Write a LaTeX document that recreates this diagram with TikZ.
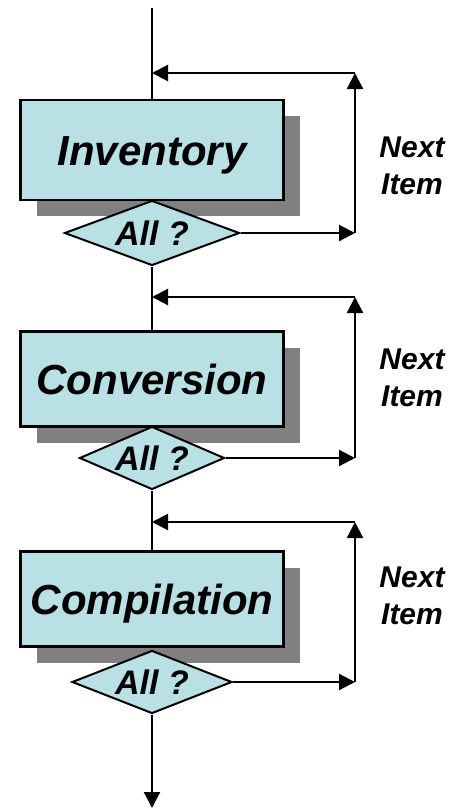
\documentclass[tikz,border=0pt]{standalone}
\usepackage{fontspec}
\setmainfont{Liberation Sans}
\usetikzlibrary{arrows.meta,shapes.geometric,shadows}
\definecolor{stagefill}{RGB}{185,224,228}
\tikzset{
  stagebox/.style={draw,line width=2.4pt,fill=stagefill,minimum width=263pt,inner sep=0pt,
    text height=30pt,text depth=0pt,font=\fontsize{42}{48}\selectfont\bfseries\itshape,
    drop shadow={shadow xshift=16pt,shadow yshift=-16pt,fill=gray,opacity=1}},
  decidebox/.style={diamond,aspect=2.7,draw,line width=2pt,fill=stagefill,inner sep=0pt,
    text height=25pt,text depth=0pt,font=\fontsize{34}{38}\selectfont\bfseries\itshape},
  flowline/.style={line width=2.2pt},
  flowarrow/.style={line width=2.2pt,-{Triangle[length=16pt,width=16pt]}},
  nextlabel/.style={align=center,font=\fontsize{30}{37}\selectfont\bfseries\itshape}
}
\begin{document}
\begin{tikzpicture}[x=1pt,y=-1pt]
\useasboundingbox (0,0) rectangle (454,809);

 \node[stagebox,minimum height=100pt] (inv) at (152,150) {Inventory};
 \node[decidebox,minimum width=175pt,minimum height=65pt] (inva) at (152,233) {All ?};
 \node[stagebox,minimum height=95pt] (conv) at (152,379) {Conversion};
 \node[decidebox,minimum width=145pt,minimum height=63pt] (conva) at (152,458) {All ?};
 \node[stagebox,minimum height=95pt] (comp) at (152,599) {Compilation};
 \node[decidebox,minimum width=160pt,minimum height=63pt] (compa) at (152,682) {All ?};

 \node[nextlabel] (next1) at (412,166) {Next\\Item};
 \node[nextlabel] (next2) at (412,378) {Next\\Item};
 \node[nextlabel] (next3) at (412,596) {Next\\Item};

 \coordinate (start) at (152,8);
 \coordinate (finish) at (152,808);
 \coordinate (inv-r) at (355,233);  \coordinate (inv-t) at (355,73);  \coordinate (inv-j) at (152,73);
 \coordinate (conv-r) at (355,458); \coordinate (conv-t) at (355,297); \coordinate (conv-j) at (152,297);
 \coordinate (comp-r) at (355,682); \coordinate (comp-t) at (355,522); \coordinate (comp-j) at (152,522);

 \draw[flowline] (start)--(inv);
 \draw[flowline] (inva)--(conv);
 \draw[flowline] (conva)--(comp);
 \draw[flowarrow] (compa)--(finish);

 \draw[flowarrow] (inva)--(inv-r);
 \draw[flowarrow] (inv-r)--(inv-t);
 \draw[flowarrow] (inv-t)--(inv-j);
 \draw[flowarrow] (conva)--(conv-r);
 \draw[flowarrow] (conv-r)--(conv-t);
 \draw[flowarrow] (conv-t)--(conv-j);
 \draw[flowarrow] (compa)--(comp-r);
 \draw[flowarrow] (comp-r)--(comp-t);
 \draw[flowarrow] (comp-t)--(comp-j);
\end{tikzpicture}
\end{document}
